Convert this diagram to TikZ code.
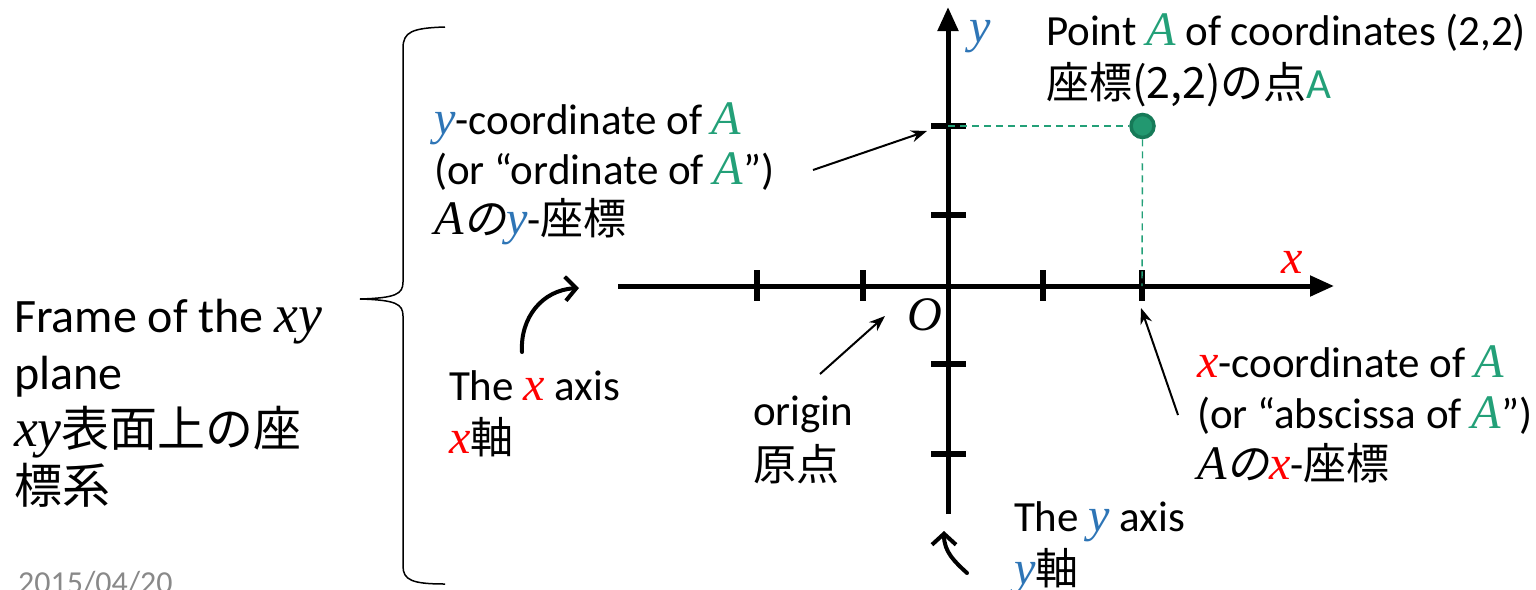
\documentclass[tikz,border=0pt]{standalone}
\usepackage{fontspec}
\setmainfont{Carlito}
\newfontfamily\jp{Noto Sans CJK JP}
\newfontfamily\jpit{Noto Sans CJK JP}[FakeSlant=0.2]
\newfontfamily\mif{Liberation Serif}[Scale=1.12]
\usetikzlibrary{arrows.meta}
\definecolor{yblue}{RGB}{46,117,182}
\definecolor{xred}{RGB}{255,0,0}
\definecolor{agreen}{RGB}{35,160,120}
\definecolor{dotfill}{RGB}{34,152,112}
\definecolor{dotline}{RGB}{22,122,88}
\definecolor{dategray}{RGB}{137,137,137}
\newcommand{\mv}[1]{{\mif\itshape #1}}
\newcommand{\vX}{\textcolor{xred}{\mv{x}}}
\newcommand{\vY}{\textcolor{yblue}{\mv{y}}}
\newcommand{\vA}{\textcolor{agreen}{\mv{A}}}
\begin{document}
\begin{tikzpicture}[x=1pt,y=-1pt,
  lbl/.style={inner sep=0pt, outer sep=0pt, anchor=base west, align=left,
    font=\fontsize{43}{#1}\selectfont},
  lbl/.default=51,
  axisline/.style={line width=5pt, -{Triangle[length=24pt,width=20pt]}},
  tick/.style={line width=6pt},
  thinarrow/.style={line width=2pt, -{Stealth[length=16pt,width=12pt]}},
  bentarrow/.style={line width=4pt, line cap=round, -{Straight Barb[length=11pt,width=24pt]}},
  guide/.style={agreen, line width=1.4pt, dash pattern=on 7pt off 5pt},
  bracestyle/.style={line width=1.5pt}]
\useasboundingbox (0,0) rectangle (1536,589);

% key coordinates
\coordinate (origin) at (948,286);
\coordinate (xl) at (618,286);
\coordinate (xr) at (1334,286);
\coordinate (yb) at (948,514);
\coordinate (yt) at (948,7);
\coordinate (xt2) at (1142,286);
\coordinate (yt2) at (948,126);

% axes
\draw[axisline] (xl) -- (xr);
\draw[axisline] (yb) -- (yt);
% ticks on x axis
\foreach \tx in {757,863,1043,1142}
  \draw[tick] (\tx,270) -- (\tx,301);
% ticks on y axis
\foreach \ty in {126,215,364,454}
  \draw[tick] (931,\ty) -- (966,\ty);

% point A
\node[circle, draw=dotline, fill=dotfill, line width=3.5pt, minimum size=23pt, inner sep=0pt] (A) at (1142.5,126) {};
\draw[guide] (yt2) -- (A.west);
\draw[guide] (A.south) -- (xt2);

% axis letters
\node[lbl] (ylab) at (969,42) {\vY};
\node[lbl] (xlab) at (1281,273) {\vX};
\node[lbl] (olab) at (907,330) {\mv{O}};

% labels (anchored at the baseline of their last line)
\node[lbl=53] (ptlab) at (1046,98) {Point \vA{} of coordinates (2,2)\\{\jp 座標(2,2)の点}\textcolor{agreen}{A}};
\node[lbl=50] (yclab) at (434,234) {\vY-coordinate of \vA\\(or “ordinate of \vA”)\\\mv{A}{\jpit の}\vY-{\jp 座標}};
\node[lbl=53] (xaxlab) at (449,453) {The \vX{} axis\\\vX{\jp 軸}};
\node[lbl=55] (orlab) at (753,480) {origin\\{\jp 原点}};
\node[lbl=51] (xclab) at (1197,479) {\vX-coordinate of \vA\\(or “abscissa of \vA”)\\\mv{A}{\jpit の}\vX-{\jp 座標}};
\node[lbl=53] (yaxlab) at (1014,584) {The \vY{} axis\\\vY{\jp 軸}};
\node[inner sep=0pt, outer sep=0pt, anchor=base west, align=left, font=\fontsize{48}{57}\selectfont] (frlab) at (14,503) {Frame of the \mv{xy}\\plane\\\mv{xy}{\jp 表面上の座}\\{\jp 標系}};
\node[inner sep=0pt, anchor=base west, text=dategray, font=\fontsize{32}{38}\selectfont] (date) at (18,593) {2015/04/20};

% pointer arrows
\coordinate (ycs) at (813,170);
\coordinate (yce) at (927,131);
\coordinate (ors) at (820,374);
\coordinate (ore) at (885,316);
\coordinate (xcs) at (1178,415);
\coordinate (xce) at (1141,308);
\draw[thinarrow] (ycs) -- (yce);
\draw[thinarrow] (ors) -- (ore);
\draw[thinarrow] (xcs) -- (xce);

% bent arrows
\coordinate (xbs) at (522,352);
\coordinate (xbe) at (579,288);
\draw[bentarrow] (xbs) .. controls (520,318) and (542,290) .. (xbe);
\coordinate (ybs) at (967,573);
\coordinate (ybe) at (944,531);
\draw[bentarrow] (ybs) .. controls (955,562) and (944,552) .. (ybe);

% brace
\coordinate (btop) at (445,27);
\coordinate (bbot) at (445,584);
\coordinate (btip) at (360,299);
\draw[bracestyle] (btop) .. controls (412,28) and (403,32) .. (403,48)
  -- (403,282) .. controls (403,294) and (396,298) .. (btip)
  .. controls (396,300) and (403,304) .. (403,316)
  -- (403,566) .. controls (403,580) and (412,584) .. (bbot);
\end{tikzpicture}
\end{document}
